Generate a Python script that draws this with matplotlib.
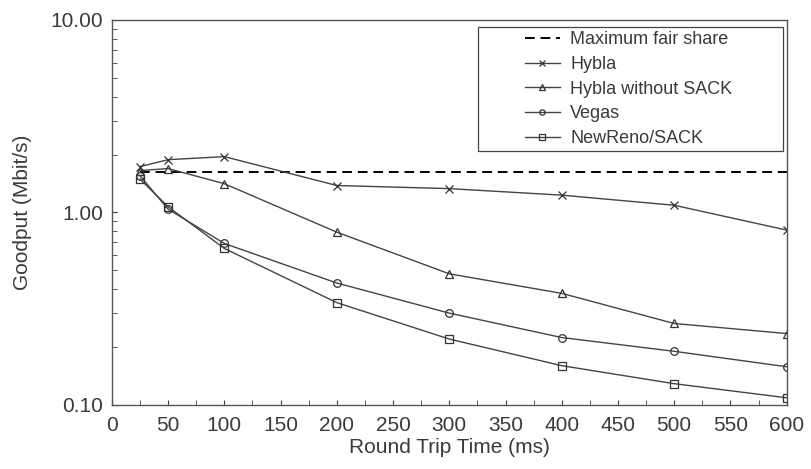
import matplotlib
matplotlib.use("Agg")
import matplotlib.pyplot as plt
from matplotlib.patches import Rectangle
from matplotlib.ticker import FixedLocator, FixedFormatter, MultipleLocator, LogLocator, NullFormatter

plt.rcParams['font.family'] = ['Liberation Sans', 'DejaVu Sans']

# data
rtt = [25, 50, 100, 200, 300, 400, 500, 600]
fair_x = [25, 600]
fair_share = [1.62, 1.62]
hybla = [1.73, 1.88, 1.95, 1.38, 1.33, 1.23, 1.09, 0.81]
hybla_nosack = [1.65, 1.69, 1.41, 0.79, 0.48, 0.38, 0.265, 0.235]
vegas = [1.55, 1.04, 0.69, 0.43, 0.30, 0.224, 0.19, 0.158]
newreno = [1.49, 1.07, 0.65, 0.34, 0.22, 0.16, 0.129, 0.109]

series = [
    ("Hybla", hybla, "x"),
    ("Hybla without SACK", hybla_nosack, "^"),
    ("Vegas", vegas, "o"),
    ("NewReno/SACK", newreno, "s"),
]

txt = "#3a3a3a"

fig = plt.figure(figsize=(8.11, 4.69), dpi=100)
ax = fig.add_axes([0.138, 0.1365, 0.832, 0.821])

ax.plot(fair_x, fair_share, color="black", linestyle=(0, (5, 3)), linewidth=1.4,
        label="Maximum fair share")
for name, vals, mk in series:
    ax.plot(rtt, vals, color="#444444", linewidth=1.0, marker=mk, markersize=5.5,
            markerfacecolor="none", markeredgecolor="#333333", markeredgewidth=0.9,
            label=name)

ax.set_yscale("log")
ax.set_ylim(0.1, 10)
ax.set_xlim(0, 600)
ax.yaxis.set_major_locator(FixedLocator([0.1, 1, 10]))
ax.yaxis.set_major_formatter(FixedFormatter(["0.10", "1.00", "10.00"]))
ax.yaxis.set_minor_locator(LogLocator(base=10, subs=range(2, 10)))
ax.yaxis.set_minor_formatter(NullFormatter())
ax.xaxis.set_major_locator(MultipleLocator(50))
ax.xaxis.set_minor_locator(MultipleLocator(25))

ax.tick_params(which="both", direction="in", labelsize=15, colors=txt, length=3.5)
ax.tick_params(axis="y", pad=6.5)
ax.tick_params(axis="x", pad=8)
for s in ax.spines.values():
    s.set_color("#555555")
    s.set_linewidth(1.0)

ax.set_xlabel("Round Trip Time (ms)", fontsize=15, color=txt, labelpad=2)
ax.set_ylabel("Goodput (Mbit/s)", fontsize=15, color=txt, labelpad=13)

# legend box (frame drawn separately, content sits inside with wide margins)
ax.add_patch(Rectangle((0.542, 0.660), 0.452, 0.322, transform=ax.transAxes,
                       facecolor="white", edgecolor="#444444", linewidth=0.9, zorder=4))
leg = ax.legend(loc="upper left", bbox_to_anchor=(0.612, 0.971), fontsize=13,
                frameon=False, borderpad=0, borderaxespad=0,
                handlelength=1.95, handletextpad=0.55, labelspacing=0.43,
                markerscale=0.7)
leg.set_zorder(5)
for t in leg.get_texts():
    t.set_color(txt)

fig.savefig("out.png", dpi=100)
